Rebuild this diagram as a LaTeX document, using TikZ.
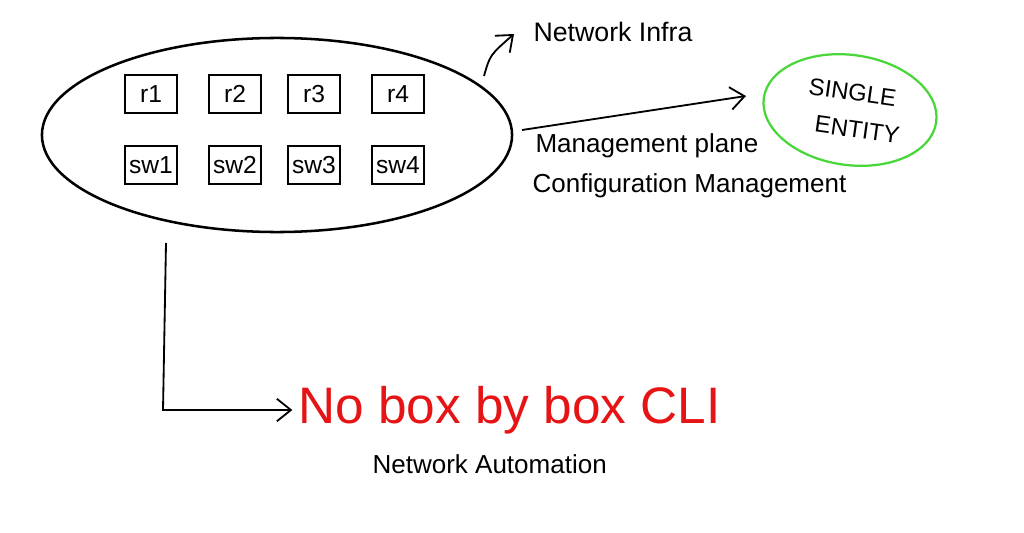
\documentclass[tikz,border=0pt]{standalone}
\usepackage{fontspec}
\setmainfont{Liberation Sans}
\usetikzlibrary{shapes.geometric,arrows.meta}
\tikzstyle{every node}=[thick]
\tikzstyle{dev}=[draw, line width=1.3pt, minimum width=1.3cm, minimum height=0.97cm, inner sep=0pt, font=\fontsize{17.5}{20}\selectfont]
\tikzstyle{lbl}=[anchor=west, inner sep=0pt, font=\fontsize{18.5}{22}\selectfont]
\tikzstyle{pen}=[line width=1.3pt, -{Straight Barb[length=10pt, width=16pt, line width=1.3pt]}]
\definecolor{entgreen}{RGB}{72,214,56}
\definecolor{clired}{RGB}{230,20,20}

\begin{document}
\begin{tikzpicture}[x=0.025cm, y=-0.025cm]
 \useasboundingbox (0,0) rectangle (1024,532);
 \node[draw, ellipse, line width=1.8pt, minimum width=11.75cm, minimum height=4.85cm] (infra) at (277,135) {};
 % routers and switches
 \foreach \i/\x in {1/151, 2/235, 3/314, 4/398} {
  \node[dev] (r\i) at (\x,94) {r\i};
  \node[dev] (sw\i) at (\x,165) {sw\i};
 }
 \node[lbl, font=\fontsize{19}{22}\selectfont] (netinfra) at (533,32) {Network Infra};
 \node[lbl] (mgmt) at (535,146) {Management plane};
 \node[lbl] (config) at (532,186) {Configuration Management};
 \node[draw=entgreen, ellipse, line width=1.6pt, minimum width=4.35cm, minimum height=2.75cm, inner sep=0pt,
   rotate=-8, align=center, font=\fontsize{17}{26}\selectfont] (entity) at (850,110) {SINGLE\\\hspace*{14pt}ENTITY};
 \node[lbl, text=clired, font=\fontsize{36.5}{40}\selectfont] (nobox) at (298,410) {No box by box CLI};
 \node[lbl] (auto) at (372,464) {Network Automation};
 % arrows
 \coordinate (up) at (484,76);
 \coordinate (mgmtstart) at (522,130);
 \coordinate (mgmtend) at (746,96);
 \coordinate (drop) at (166,243);
 \draw[pen] (up) .. controls (490,55) .. (514,34);
 \draw[pen] (mgmtstart) -- (mgmtend);
 \draw[pen] (drop) -- (163,410) -- ([xshift=-4pt]nobox.west);
\end{tikzpicture}
\end{document}
